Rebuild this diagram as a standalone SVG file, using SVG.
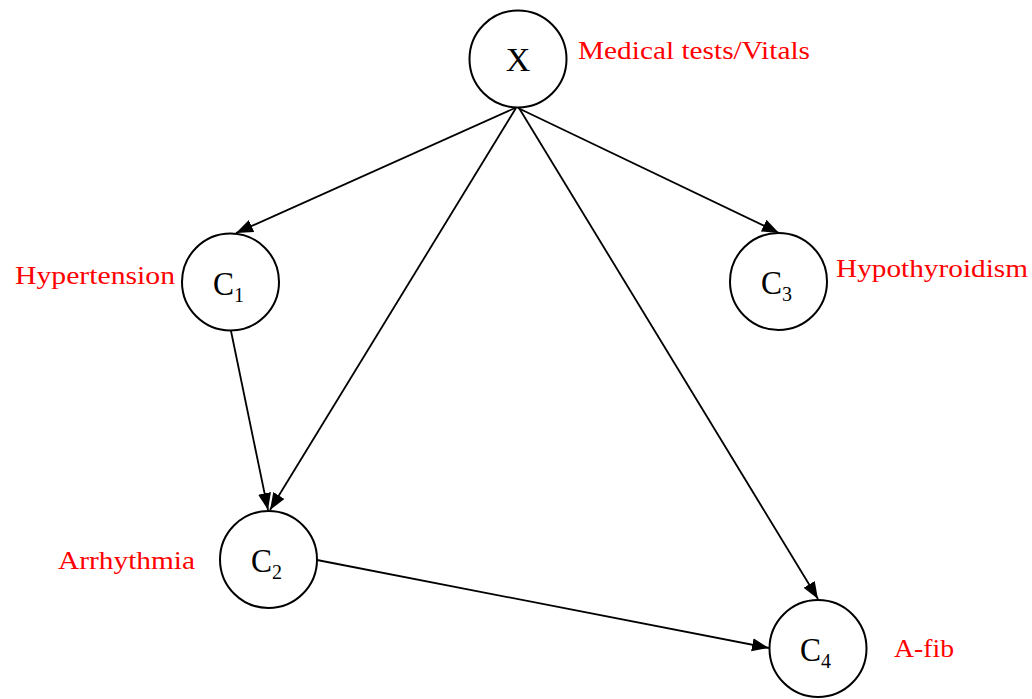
<svg xmlns="http://www.w3.org/2000/svg" width="1032" height="699" viewBox="0 0 1032 699">
<style>
.node circle{fill:#fff;stroke:#000;stroke-width:2}
.sym{font-family:"Liberation Serif","DejaVu Serif",serif;font-size:34px;fill:#000}
.sub{font-family:"Liberation Serif","DejaVu Serif",serif;font-size:20px;fill:#000}
.lbl{font-family:"Liberation Serif","DejaVu Serif",serif;font-size:25px;fill:#ff0000}
.edge{stroke:#000;stroke-width:1.8;fill:none;marker-end:url(#ah)}
</style>
<defs>
<marker id="ah" markerWidth="18" markerHeight="14" refX="17" refY="7" orient="auto" markerUnits="userSpaceOnUse">
<path d="M0,0.5 L17,7 L0,13.5 Z" fill="#000"/>
</marker>
</defs>
<rect width="1032" height="699" fill="#fff"/>
<g id="edges">
<line class="edge" x1="515" y1="108" x2="236" y2="233"/>
<line class="edge" x1="516" y1="108" x2="270" y2="510"/>
<line class="edge" x1="518" y1="108" x2="779" y2="233"/>
<line class="edge" x1="519" y1="108" x2="818" y2="599"/>
<line class="edge" x1="231" y1="331" x2="268" y2="510"/>
<line class="edge" x1="317" y1="560" x2="769" y2="648"/>
</g>
<g id="node-X" class="node">
<circle cx="518" cy="59" r="48.5"/>
<text class="sym" x="518" y="71" text-anchor="middle">X</text>
<text class="lbl" x="578" y="59" textLength="232" lengthAdjust="spacingAndGlyphs">Medical tests/Vitals</text>
</g>
<g id="node-C1" class="node">
<circle cx="230.5" cy="282" r="48.5"/>
<text class="sym" x="213" y="295" textLength="21" lengthAdjust="spacingAndGlyphs">C</text>
<text class="sub" x="234" y="302">1</text>
<text class="lbl" x="15" y="284" textLength="160" lengthAdjust="spacingAndGlyphs">Hypertension</text>
</g>
<g id="node-C3" class="node">
<circle cx="778.5" cy="281.5" r="48.5"/>
<text class="sym" x="761" y="294" textLength="21" lengthAdjust="spacingAndGlyphs">C</text>
<text class="sub" x="782" y="301">3</text>
<text class="lbl" x="836" y="277" textLength="192" lengthAdjust="spacingAndGlyphs">Hypothyroidism</text>
</g>
<g id="node-C2" class="node">
<circle cx="268.5" cy="559.5" r="48.5"/>
<text class="sym" x="251" y="572" textLength="21" lengthAdjust="spacingAndGlyphs">C</text>
<text class="sub" x="272" y="579">2</text>
<text class="lbl" x="58" y="569" textLength="137" lengthAdjust="spacingAndGlyphs">Arrhythmia</text>
</g>
<g id="node-C4" class="node">
<circle cx="818" cy="648.5" r="48.5"/>
<text class="sym" x="800" y="661" textLength="21" lengthAdjust="spacingAndGlyphs">C</text>
<text class="sub" x="821" y="668">4</text>
<text class="lbl" x="894" y="657" textLength="60" lengthAdjust="spacingAndGlyphs">A-fib</text>
</g>
</svg>
